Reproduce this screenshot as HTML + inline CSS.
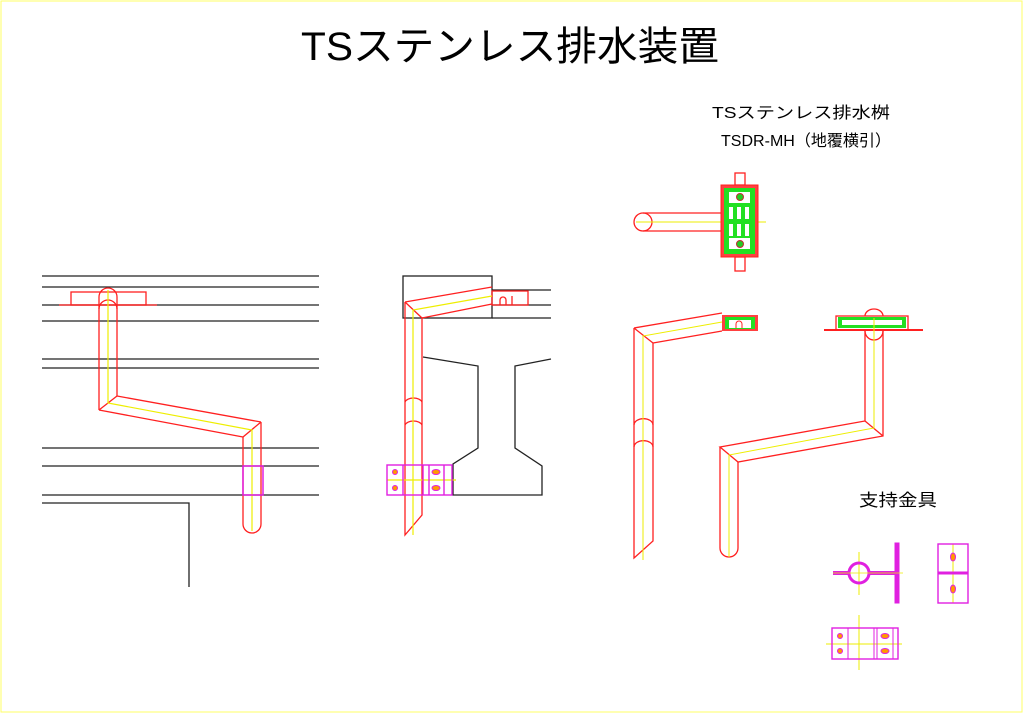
<!DOCTYPE html>
<html><head><meta charset="utf-8"><style>
html,body{margin:0;padding:0;background:#fff;}
svg{display:block;}
text{font-family:"Liberation Sans","Noto Sans CJK JP",sans-serif;}
</style></head><body>
<svg width="1024" height="724" viewBox="0 0 1024 724" xmlns="http://www.w3.org/2000/svg">
<rect x="1" y="1" width="1021" height="711" fill="none" stroke="#ffff66" stroke-width="1"/>
<text x="510" y="60" font-size="40" text-anchor="middle" textLength="418" lengthAdjust="spacingAndGlyphs" fill="#000">TSステンレス排水装置</text>
<text x="801" y="118" font-size="16" text-anchor="middle" textLength="178" lengthAdjust="spacingAndGlyphs" fill="#000">TSステンレス排水桝</text>
<text x="806" y="146" font-size="16" text-anchor="middle" textLength="170" lengthAdjust="spacingAndGlyphs" fill="#000">TSDR-MH（地覆横引）</text>
<text x="898" y="506" font-size="17" text-anchor="middle" textLength="78" lengthAdjust="spacingAndGlyphs" fill="#000">支持金具</text>

<!-- left view -->
<g stroke="#222" stroke-width="1.3" fill="none">
<line x1="42" y1="276" x2="319" y2="276"/><line x1="42" y1="287" x2="319" y2="287"/>
<line x1="42" y1="305" x2="319" y2="305"/><line x1="42" y1="321" x2="319" y2="321"/>
<line x1="42" y1="359" x2="319" y2="359"/><line x1="42" y1="368" x2="319" y2="368"/>
<line x1="42" y1="448" x2="319" y2="448"/><line x1="42" y1="466" x2="319" y2="466"/>
<line x1="42" y1="495" x2="319" y2="495"/>
<polyline points="42,503 189,503 189,587"/>
</g>
<g stroke="#ff2020" stroke-width="1.3" fill="none">
<rect x="71" y="292" width="75" height="13"/>
<line x1="59" y1="305" x2="157" y2="305"/>
<path d="M99,410 V297 A9,9 0 0 1 117,297 V396"/>
<path d="M99,309 A9,9 0 0 1 117,309"/>
<path d="M99,410 L243,437 M117,396 L261,422 M99,410 L117,396 M243,437 L261,422"/>
<path d="M243,437 V524 A9,9 0 0 0 261,524 V422"/>
</g>
<g stroke="#eeee00" stroke-width="1.2" fill="none">
<polyline points="108,290 108,403 252,430 252,531"/>
</g>
<rect x="243" y="466" width="20" height="29" fill="none" stroke="#e020e0" stroke-width="1.5"/>

<!-- middle view -->
<g stroke="#222" stroke-width="1.3" fill="none">
<rect x="403" y="276" width="89" height="42"/>
<line x1="492" y1="290" x2="551" y2="290"/><line x1="492" y1="305" x2="551" y2="305"/><line x1="492" y1="318" x2="551" y2="318"/>
<polyline points="423,357 478,366 478,448 453,464 453,495 542,495 542,466 515,448 515,366 551,359"/>
</g>
<g stroke="#ff2020" stroke-width="1.3" fill="none">
<rect x="492" y="291" width="36" height="14"/>
<path d="M500,305 v-5 a3,3 0 0 1 6,0 v5 M512,296 v9"/>
<path d="M405,302 L492,287 M422,318 L492,304 M405,302 L422,318"/>
<path d="M405,302 V535 L422,515 V318"/>
<path d="M405,402 A9,6 0 0 1 422,402 M405,425 A9,6 0 0 1 422,425"/>
</g>
<g stroke="#eeee00" stroke-width="1.2" fill="none">
<polyline points="492,296 413,310 413,535"/>
<line x1="387" y1="480" x2="456" y2="480"/>
</g>
<g stroke="#e020e0" stroke-width="1.4" fill="none">
<rect x="387" y="465" width="65" height="30"/>
<line x1="403" y1="465" x2="403" y2="495"/><line x1="423" y1="465" x2="423" y2="495"/>
<line x1="429" y1="465" x2="429" y2="495"/><line x1="444" y1="465" x2="444" y2="495"/>
</g>
<g fill="#ff9900" stroke="#e020e0" stroke-width="1"><circle cx="395" cy="472" r="2.5"/><circle cx="395" cy="488" r="2.5"/><ellipse cx="436" cy="472" rx="4" ry="2.5"/><ellipse cx="436" cy="488" rx="4" ry="2.5"/></g>

<!-- top view basin -->
<g stroke="#ff2020" stroke-width="1.3" fill="none">
<circle cx="643" cy="222" r="9"/>
<line x1="643" y1="213" x2="722" y2="213"/><line x1="643" y1="231" x2="722" y2="231"/>
<rect x="735" y="173" width="10" height="12"/><rect x="735" y="257" width="10" height="14"/>
</g>
<line x1="636" y1="222" x2="766" y2="222" stroke="#eeee00" stroke-width="1"/>
<rect x="721" y="185" width="37" height="72" fill="#ff4040" stroke="#ff2020"/>
<rect x="724" y="188" width="31" height="66" fill="#22e022"/>
<g fill="#fff"><rect x="729" y="192" width="21" height="11"/><rect x="729" y="238" width="21" height="11"/>
<rect x="729" y="207" width="4" height="12"/><rect x="737" y="207" width="4" height="12"/><rect x="745" y="207" width="4" height="12"/>
<rect x="729" y="224" width="4" height="12"/><rect x="737" y="224" width="4" height="12"/><rect x="745" y="224" width="4" height="12"/></g>
<circle cx="740" cy="197" r="3.5" fill="#22cc22" stroke="#c03030"/><circle cx="740" cy="244" r="3.5" fill="#22cc22" stroke="#c03030"/>

<!-- side view 1 -->
<g stroke="#ff2020" stroke-width="1.3" fill="none">
<path d="M634,328 L722,313 M653,343 L722,331 M634,328 L653,343"/>
<path d="M634,328 V558 L653,541 V343"/>
<path d="M634,425 A9,6 0 0 1 653,425 M634,447 A9,6 0 0 1 653,447"/>
</g>
<polyline points="722,322 643,336 643,560" fill="none" stroke="#eeee00" stroke-width="1"/>
<rect x="722" y="315" width="36" height="16" fill="#ff4040"/>
<rect x="725" y="317" width="30" height="12" fill="#22e022"/>
<rect x="729" y="320" width="22" height="8" fill="#fff"/>
<path d="M736,328 v-4 a3,3 0 0 1 6,0 v4" fill="none" stroke="#ff2020"/>

<!-- side view 2 -->
<line x1="824" y1="330" x2="923" y2="330" stroke="#ff2020" stroke-width="2"/>
<rect x="836" y="316" width="72" height="14" fill="none" stroke="#ff2020" stroke-width="1.3"/>
<rect x="838" y="317" width="68" height="11" fill="#22e022"/>
<rect x="842" y="320" width="60" height="5" fill="#fff"/>
<g stroke="#ff2020" stroke-width="1.3" fill="none">
<path d="M865,316 A9,7 0 0 1 883,316"/>
<path d="M865,330 V421 L720,447 L738,462 L883,436 V330"/>
<path d="M865,331 A9,9 0 0 0 883,331"/>
<path d="M865,421 L883,436"/>
<path d="M720,447 V548 A9,9 0 0 0 738,548 V462"/>
</g>
<polyline points="874,318 874,428 729,455 729,557" fill="none" stroke="#eeee00" stroke-width="1"/>

<!-- support fittings -->
<g stroke="#eeee00" stroke-width="1"><line x1="859" y1="552" x2="859" y2="595"/><line x1="953" y1="544" x2="953" y2="603"/><line x1="859" y1="615" x2="859" y2="670"/><line x1="826" y1="644" x2="902" y2="644"/></g>
<g stroke="#e020e0" fill="none">
<circle cx="859" cy="573" r="10" stroke-width="3"/>
<line x1="833" y1="573" x2="849" y2="573" stroke-width="4"/><line x1="869" y1="573" x2="895" y2="573" stroke-width="4"/>
<rect x="895" y="543" width="4" height="60" fill="#e020e0" stroke-width="1"/>
<rect x="938" y="544" width="30" height="59" stroke-width="1.4"/>
<line x1="938" y1="573" x2="968" y2="573" stroke-width="3"/>
<rect x="832" y="628" width="66" height="31" stroke-width="1.4"/>
<line x1="848" y1="628" x2="848" y2="659"/><line x1="874" y1="628" x2="874" y2="659"/><line x1="877" y1="628" x2="877" y2="659"/><line x1="893" y1="628" x2="893" y2="659"/>
</g>
<g fill="#ff9900" stroke="#e020e0"><ellipse cx="953" cy="557" rx="2.5" ry="4"/><ellipse cx="953" cy="589" rx="2.5" ry="4"/><circle cx="840" cy="636" r="2.5"/><circle cx="840" cy="651" r="2.5"/><ellipse cx="885" cy="636" rx="4" ry="2.5"/><ellipse cx="885" cy="651" rx="4" ry="2.5"/></g>
<line x1="833" y1="573" x2="903" y2="573" stroke="#eeee00" stroke-width="0.8"/>
</svg>
</body></html>
